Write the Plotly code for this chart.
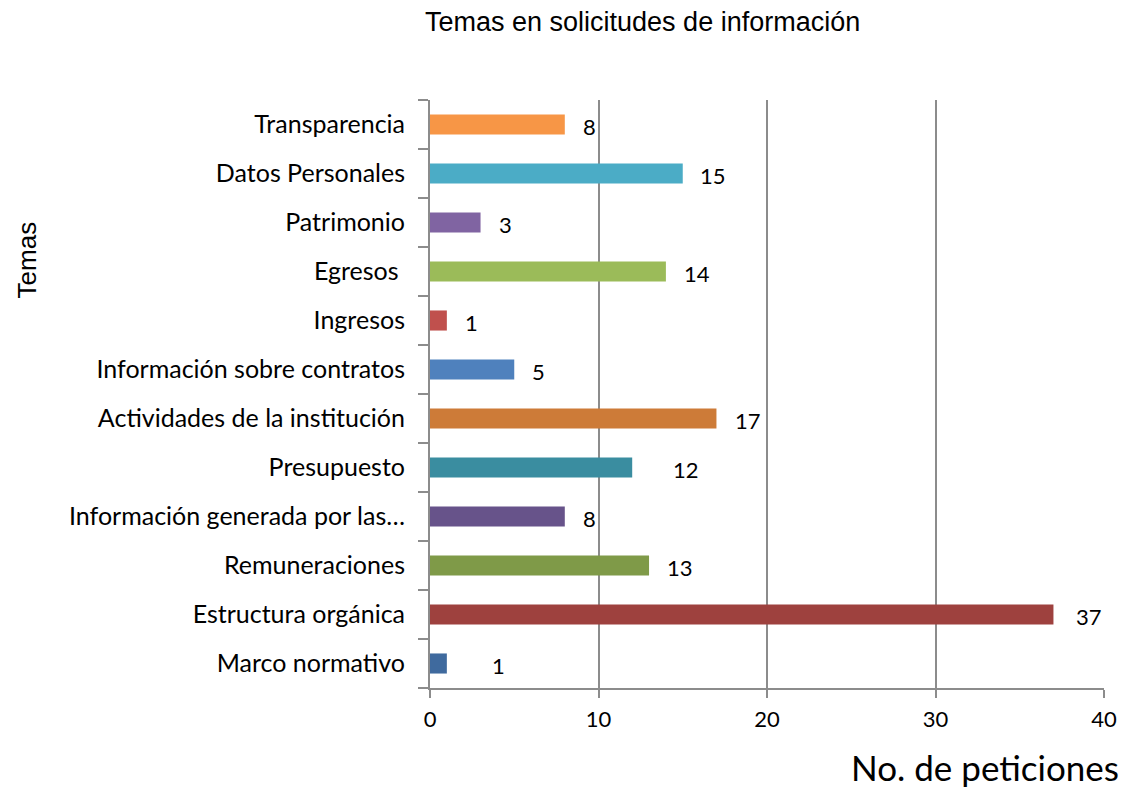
import plotly.graph_objects as go

categories = [
    "Marco normativo",
    "Estructura orgánica",
    "Remuneraciones",
    "Información generada por las…",
    "Presupuesto",
    "Actividades de la institución",
    "Información sobre contratos",
    "Ingresos",
    "Egresos ",
    "Patrimonio",
    "Datos Personales",
    "Transparencia",
]
values = [1, 37, 13, 8, 12, 17, 5, 1, 14, 3, 15, 8]
colors = ["#3F6A9E", "#9E413E", "#7F9A48", "#67538A", "#3A8DA0", "#CD7B38",
          "#4F81BD", "#C0504D", "#9BBB59", "#8064A2", "#4BACC6", "#F79646"]
label_shift = [43, 21, 16, 16, 39, 17, 16, 16, 16, 16, 15, 16]

title = "Temas en solicitudes de información"
x_title = "No. de peticiones"
y_title = "Temas"
x_ticks = [0, 10, 20, 30, 40]

# page body has an 8px margin; work in page pixels and subtract it
OFF = 8
W, H = 1129 - OFF, 789 - OFF
L, R, T, B = 430 - OFF, 1108 - OFF, 100 - OFF, 688 - OFF
PW, PH = R - L, B - T


def px(x):
    return (x - OFF - L) / PW


def py(y):
    return (B - (y - OFF)) / PH


fig = go.Figure()
fig.add_trace(go.Bar(
    y=categories, x=values, orientation="h",
    marker=dict(color=colors, line=dict(width=0)),
    showlegend=False, hoverinfo="x+y",
))

annots = []
for c, v, s in zip(categories, values, label_shift):
    annots.append(dict(x=v, y=c, xref="x", yref="y", text=str(v), showarrow=False,
                       xanchor="left", xshift=s, yshift=-2,
                       font=dict(family="Lato, sans-serif", size=22, color="#000")))

annots += [
    dict(text=title, xref="paper", yref="paper", x=px(644), y=py(22),
         xanchor="center", yanchor="middle", showarrow=False,
         font=dict(family="Liberation Sans, Arial, sans-serif", size=27, color="#000")),
    dict(text=x_title, xref="paper", yref="paper", x=px(1125), y=py(767),
         xanchor="right", yanchor="middle", showarrow=False,
         font=dict(family="Lato, sans-serif", size=35, color="#000")),
    dict(text=y_title, xref="paper", yref="paper", x=px(25), y=py(260),
         xanchor="center", yanchor="middle", showarrow=False, textangle=-90,
         font=dict(family="Liberation Sans, Arial, sans-serif", size=26, color="#000")),
]

fig.update_layout(
    width=W, height=H,
    paper_bgcolor="white", plot_bgcolor="white",
    margin=dict(l=L, r=W - R, t=T, b=H - B),
    bargap=0.59,
    annotations=annots,
)

fig.update_xaxes(
    range=[0, 40], tickvals=x_ticks, showgrid=True, gridcolor="#8C8C8C", gridwidth=2,
    showline=True, linecolor="#8C8C8C", linewidth=2, zeroline=False,
    ticks="outside", ticklen=8, tickcolor="#8C8C8C", tickwidth=2,
    ticklabelstandoff=3,
    tickfont=dict(family="Lato, sans-serif", size=22, color="#000"),
    fixedrange=True,
)
fig.update_yaxes(
    categoryorder="array", categoryarray=categories,
    showline=True, linecolor="#8C8C8C", linewidth=2, showgrid=False,
    ticks="outside", ticklen=10, tickcolor="#8C8C8C", tickwidth=2, tickson="boundaries",
    ticklabelstandoff=18,
    tickfont=dict(family="Lato, sans-serif", size=25, color="#000"),
    fixedrange=True,
)

fig.write_html("out.html")
